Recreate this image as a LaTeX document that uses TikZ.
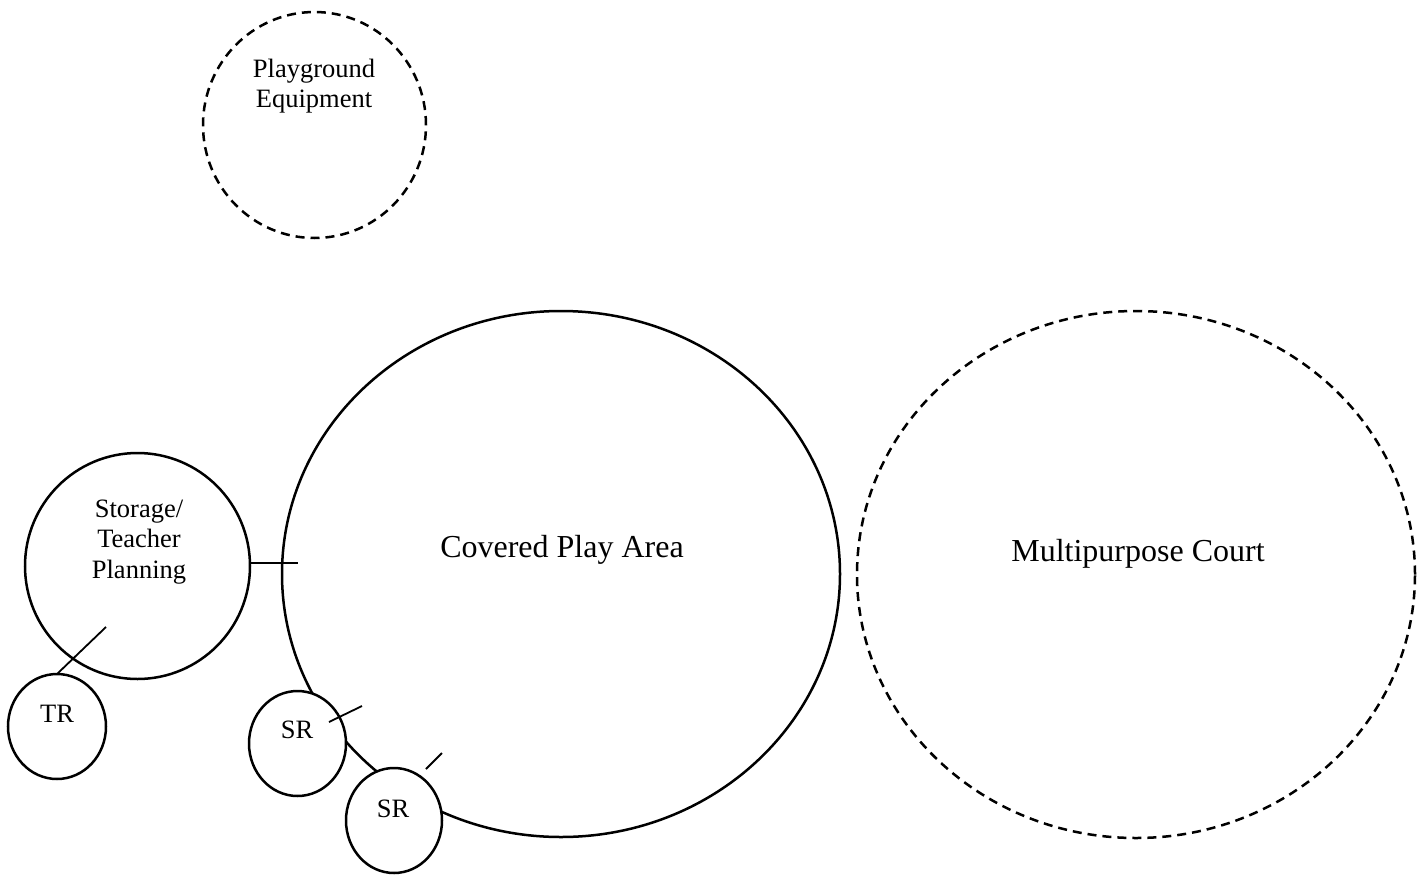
\documentclass[tikz,border=0pt]{standalone}
\usepackage{fontspec}
\setmainfont{Liberation Serif}
\usetikzlibrary{shapes.geometric}
\tikzset{
  area/.style={ellipse, draw, line width=2.5pt, inner sep=0pt, outer sep=0pt},
  dashedarea/.style={area, dash pattern=on 9pt off 6pt},
  small/.style={area, fill=white},
  lbl/.style={font=\fontsize{26.5}{30.5}\selectfont, align=center, inner sep=0pt},
  biglbl/.style={font=\fontsize{32}{36}\selectfont, inner sep=0pt},
  tick/.style={line width=1.8pt}
}
\begin{document}
\begin{tikzpicture}[x=1pt,y=-1pt]
\useasboundingbox (0,0) rectangle (1417,876);
% main areas
\node[dashedarea, minimum width=223pt, minimum height=226pt] (pg) at (314.5,125) {};
\node[area, minimum width=558pt, minimum height=526pt] (cpa) at (561,574) {};
\node[dashedarea, minimum width=558pt, minimum height=527pt] (mpc) at (1136,574.5) {};
\node[area, minimum width=225pt, minimum height=226pt] (stor) at (137.5,566) {};
\node[small, minimum width=98pt, minimum height=105pt] (tr) at (57,726.5) {};
\node[small, minimum width=97pt, minimum height=105pt] (sra) at (297.5,743.5) {};
\node[small, minimum width=96pt, minimum height=105pt] (srb) at (394,820.5) {};
% labels
\node[lbl] (pgt) at (314,86) {Playground\\Equipment};
\node[lbl] (stt) at (139,542) {Storage/\\Teacher\\Planning};
\node[biglbl, anchor=base] (cpat) at (562,557) {Covered Play Area};
\node[biglbl, anchor=base] (mpct) at (1138,561) {Multipurpose Court};
\node[lbl, anchor=base] (trt) at (57,722) {TR};
\node[lbl, anchor=base] (srat) at (297,738) {SR};
\node[lbl, anchor=base] (srbt) at (393,817) {SR};
% connector ticks
\coordinate (c1) at (298,563);
\coordinate (c2) at (106,627);
\coordinate (c3a) at (329,722);
\coordinate (c3b) at (362,706);
\coordinate (c4a) at (426,769);
\coordinate (c4b) at (442,753);
\draw[tick] (stor.east |- c1) -- (c1);
\draw[tick] (tr.north) -- (c2);
\draw[tick] (c3a) -- (c3b);
\draw[tick] (c4a) -- (c4b);
\end{tikzpicture}
\end{document}
